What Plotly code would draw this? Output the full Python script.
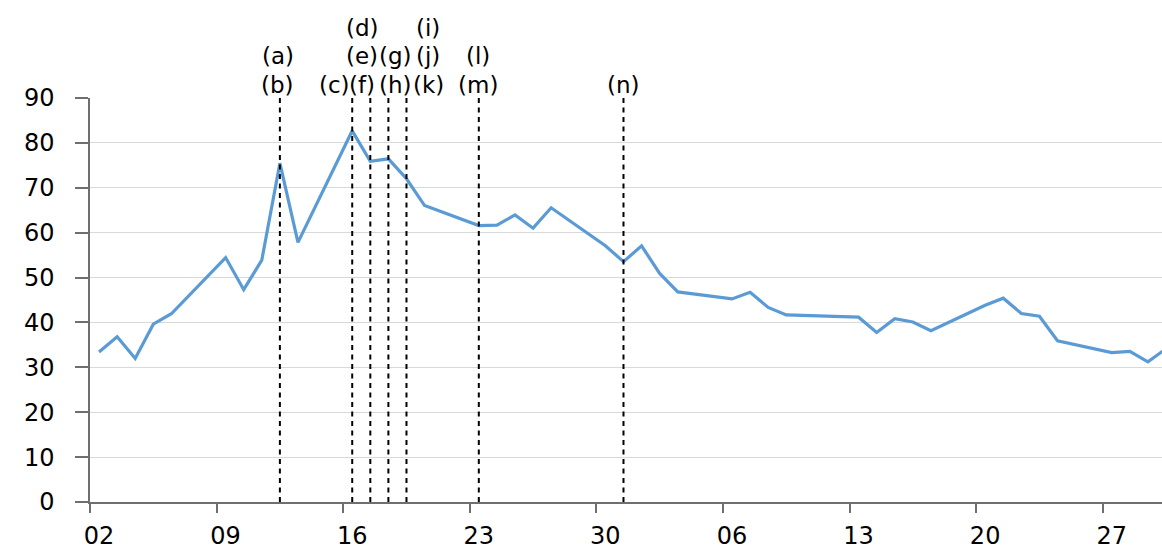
import pandas as pd
import plotly.graph_objects as go

# ---- data (daily closing values) ----
dates = [
    "2020-03-02", "2020-03-03", "2020-03-04", "2020-03-05", "2020-03-06",
    "2020-03-09", "2020-03-10", "2020-03-11", "2020-03-12", "2020-03-13",
    "2020-03-16", "2020-03-17", "2020-03-18", "2020-03-19", "2020-03-20",
    "2020-03-23", "2020-03-24", "2020-03-25", "2020-03-26", "2020-03-27",
    "2020-03-30", "2020-03-31", "2020-04-01", "2020-04-02", "2020-04-03",
    "2020-04-06", "2020-04-07", "2020-04-08", "2020-04-09",
    "2020-04-13", "2020-04-14", "2020-04-15", "2020-04-16", "2020-04-17",
    "2020-04-20", "2020-04-21", "2020-04-22", "2020-04-23", "2020-04-24",
    "2020-04-27", "2020-04-28", "2020-04-29", "2020-04-30",
]
values = [
    33.42, 36.82, 31.99, 39.62, 41.94,
    54.46, 47.30, 53.90, 75.47, 57.83,
    82.69, 75.91, 76.45, 72.00, 66.04,
    61.59, 61.67, 63.95, 61.00, 65.54,
    57.08, 53.54, 57.06, 50.91, 46.80,
    45.24, 46.70, 43.35, 41.67,
    41.17, 37.76, 40.84, 40.11, 38.15,
    43.83, 45.41, 41.98, 41.38, 35.93,
    33.29, 33.57, 31.23, 34.15,
]

# event marker dates (dashed vertical lines)
event_dates = ["2020-03-12", "2020-03-16", "2020-03-17", "2020-03-18",
               "2020-03-19", "2020-03-23", "2020-03-31"]

# label stacks (top to bottom) and the event date each is placed by
label_stacks = [["(a)", "(b)"], ["(c)"], ["(d)", "(e)", "(f)"], ["(g)", "(h)"],
                ["(i)", "(j)", "(k)"], ["(l)", "(m)"], ["(n)"]]
label_dates = ["2020-03-12", "2020-03-16", "2020-03-17", "2020-03-18",
               "2020-03-19", "2020-03-23", "2020-03-31"]
label_xshift = [-2, -18, -8, 7, 22, -1, 0]

tick_dates = ["2020-03-02", "2020-03-09", "2020-03-16", "2020-03-23", "2020-03-30",
              "2020-04-06", "2020-04-13", "2020-04-20", "2020-04-27"]
tick_text = ["02", "09", "16", "23", "30", "06", "13", "20", "27"]

# points sit in the middle of each day slot (date axis, labels between ticks)
half_day = pd.Timedelta(hours=12)
x = pd.to_datetime(dates) + half_day

FONT = "DejaVu Sans"
TICK_SIZE = 24
LABEL_SIZE = 23

fig = go.Figure()
fig.add_trace(go.Scatter(
    x=x, y=values, mode="lines",
    line=dict(color="#5B9BD5", width=3.2),
    showlegend=False, hoverinfo="x+y",
))

for d in event_dates:
    xd = pd.Timestamp(d) + half_day
    fig.add_shape(type="line", xref="x", yref="paper", x0=xd, x1=xd, y0=0, y1=1,
                  line=dict(color="black", width=2, dash="5px,4.5px"), layer="above")

for stack, d, sh in zip(label_stacks, label_dates, label_xshift):
    xd = pd.Timestamp(d) + half_day
    n = len(stack)
    for i, txt in enumerate(stack):
        k = n - 1 - i  # rows counted up from bottom row
        fig.add_annotation(x=xd, y=1, xref="x", yref="paper", text=txt,
                           showarrow=False, xanchor="center", yanchor="middle",
                           xshift=sh, yshift=13.5 + 28.5 * k,
                           font=dict(family=FONT, size=LABEL_SIZE, color="black"))

fig.update_layout(
    width=1162, height=550,
    margin=dict(l=90, r=0, t=98, b=48, autoexpand=False),
    paper_bgcolor="white", plot_bgcolor="white",
    font=dict(family=FONT, size=TICK_SIZE, color="black"),
    showlegend=False,
)
fig.update_xaxes(
    type="date", automargin=False,
    range=["2020-03-02", "2020-04-30 06:40"],
    tickvals=pd.to_datetime(tick_dates), ticktext=tick_text,
    ticks="outside", ticklen=9, tickwidth=1.5, tickcolor="#6f6f6f",
    ticklabelshift=9, ticklabelstandoff=2,
    showline=True, linecolor="#6f6f6f", linewidth=1.5,
    showgrid=False, zeroline=False,
    tickfont=dict(family=FONT, size=TICK_SIZE, color="black"),
)
fig.update_yaxes(
    range=[0, 90], dtick=10, tick0=0, automargin=False,
    ticks="outside", ticklen=13, tickwidth=1.5, tickcolor="#6f6f6f",
    ticklabelstandoff=16,
    showline=True, linecolor="#6f6f6f", linewidth=1.5,
    showgrid=True, gridcolor="#d9d9d9", gridwidth=1,
    zeroline=False,
    tickfont=dict(family=FONT, size=TICK_SIZE, color="black"),
)

fig.write_html(
    "out.html",
    config={"displayModeBar": False},
    post_script="document.body.style.margin='0';document.body.style.overflow='hidden';",
)
